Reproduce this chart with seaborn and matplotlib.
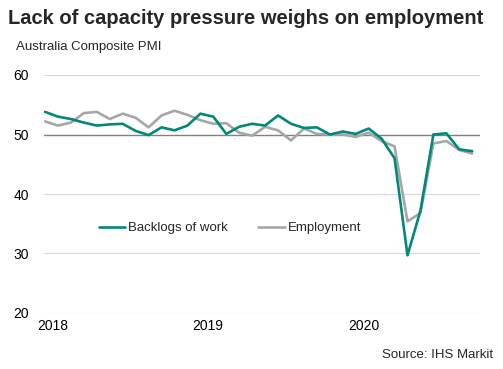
import numpy as np
import pandas as pd
import matplotlib
matplotlib.use('Agg')
import matplotlib.pyplot as plt
import seaborn as sns

# monthly readings, Dec 2017 .. Sep 2020
months = pd.date_range('2017-12-01', periods=34, freq='MS')
backlogs = [53.8, 53.0, 52.6, 52.0, 51.5, 51.7, 51.8, 50.6, 49.9, 51.2,
            50.7, 51.5, 53.5, 53.0, 50.1, 51.3, 51.8, 51.5, 53.2, 51.8,
            51.1, 51.2, 50.0, 50.5, 50.1, 51.0, 49.3, 46.0, 29.7, 37.2,
            50.0, 50.2, 47.5, 47.2]
employment = [52.2, 51.5, 52.0, 53.6, 53.8, 52.6, 53.5, 52.8, 51.2, 53.2,
              54.0, 53.3, 52.4, 51.8, 51.9, 50.3, 49.8, 51.3, 50.7, 49.0,
              51.0, 50.1, 50.0, 50.0, 49.6, 50.3, 48.9, 48.0, 35.4, 36.8,
              48.5, 48.9, 47.4, 46.8]
series_names = ['Backlogs of work', 'Employment']
series_colors = ['#00897b', '#a6a6a6']
year_labels = ['2018', '2019', '2020']

df = pd.DataFrame({
    'idx': np.tile(np.arange(len(months)), 2),
    'value': backlogs + employment,
    'series': np.repeat(series_names, len(months)),
})

sns.set_style('white')
plt.rcParams['font.family'] = ['Liberation Sans', 'DejaVu Sans']

fig = plt.figure(figsize=(5.03, 3.69), dpi=100)
ax = fig.add_axes([44 / 503, 1 - 313 / 369, 436 / 503, 238 / 369])

# gridlines
for v in [20, 30, 40, 60]:
    ax.axhline(v, color='#d9d9d9', lw=0.9, zorder=0)
ax.axhline(50, color='#808080', lw=1.0, zorder=1)

# draw employment first so backlogs sits on top
sns.lineplot(data=df[df.series == 'Employment'], x='idx', y='value',
             color=series_colors[1], lw=1.9, ax=ax, label='Employment', zorder=2)
sns.lineplot(data=df[df.series == 'Backlogs of work'], x='idx', y='value',
             color=series_colors[0], lw=1.9, ax=ax, label='Backlogs of work', zorder=3)

ax.set_ylim(20, 60)
ax.set_xlim(-0.08, 33.6)
ax.set_yticks([20, 30, 40, 50, 60])
jan_idx = [i for i, m in enumerate(months) if m.month == 1]
ax.set_xticks([i - 0.4 for i in jan_idx])
ax.set_xticklabels(year_labels)
ax.tick_params(axis='both', length=0, labelsize=10, colors='#000000')
ax.tick_params(axis='y', pad=11)
ax.tick_params(axis='x', pad=4)
ax.set_xlabel('')
ax.set_ylabel('')
for s in ax.spines.values():
    s.set_visible(False)

handles, labels = ax.get_legend_handles_labels()
order = [labels.index(n) for n in series_names]
ax.legend([handles[i] for i in order], [labels[i] for i in order],
          loc='center', bbox_to_anchor=(0.427, 0.357), ncol=2, frameon=False,
          fontsize=9.5, handlelength=2.0, handletextpad=0.25, columnspacing=2.3)

fig.text(8 / 503, 1 - 19 / 369, 'Lack of capacity pressure weighs on employment',
         fontsize=14.5, fontweight='bold', va='center', ha='left')
fig.text(16 / 503, 1 - 47 / 369, 'Australia Composite PMI',
         fontsize=9.5, va='center', ha='left')
fig.text(493 / 503, 1 - 355 / 369, 'Source: IHS Markit',
         fontsize=9.5, va='center', ha='right')

fig.savefig('out.png', dpi=100)
